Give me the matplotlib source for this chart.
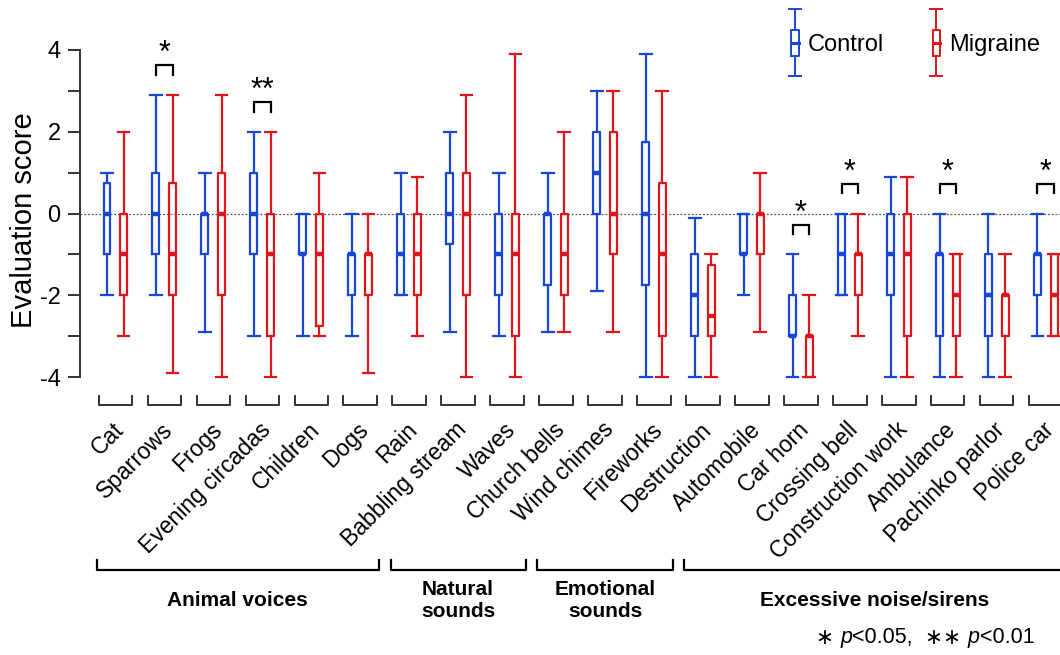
import matplotlib
matplotlib.use("Agg")
import matplotlib.pyplot as plt
from matplotlib.legend_handler import HandlerBase
from matplotlib.lines import Line2D
import numpy as np

plt.rcParams['font.family'] = ['Liberation Sans', 'DejaVu Sans']
plt.rcParams['axes.unicode_minus'] = False

# data
categories = ['Cat', 'Sparrows', 'Frogs', 'Evening circadas', 'Children', 'Dogs',
              'Rain', 'Babbling stream', 'Waves',
              'Church bells', 'Wind chimes', 'Fireworks',
              'Destruction', 'Automobile', 'Car horn', 'Crossing bell',
              'Construction work', 'Ambulance', 'Pachinko parlor', 'Police car']

ctrl_med = [0, 0, 0, 0, -1, -1, -1, 0, -1, 0, 1, 0, -2, -1, -3, -1, -1, -1, -2, -1]
ctrl_q1 = [-1, -1, -1, -1, -1, -2, -2, -0.75, -2, -1.75, 0, -1.75, -3, -1, -3, -2, -2, -3, -3, -2]
ctrl_q3 = [0.75, 1, 0, 1, 0, -1, 0, 1, 0, 0, 2, 1.75, -1, 0, -2, 0, 0, -1, -1, -1]
ctrl_lo = [-2, -2, -2.9, -3, -3, -3, -2, -2.9, -3, -2.9, -1.9, -4, -4, -2, -4, -2, -4, -4, -4, -3]
ctrl_hi = [1, 2.9, 1, 2, 0, 0, 1, 2, 1, 1, 3, 3.9, -0.1, 0, -1, 0, 0.9, 0, 0, 0]

mig_med = [-1, -1, 0, -1, -1, -1, -1, 0, -1, -1, 0, -1, -2.5, 0, -3, -1, -1, -2, -2, -2]
mig_q1 = [-2, -2, -2, -3, -2.75, -2, -2, -2, -3, -2, -1, -3, -3, -1, -4, -2, -3, -3, -3, -3]
mig_q3 = [0, 0.75, 1, 0, 0, -1, 0, 1, 0, 0, 2, 0.75, -1.25, 0, -3, -1, 0, -1, -2, -1]
mig_lo = [-3, -3.9, -4, -4, -3, -3.9, -3, -4, -4, -2.9, -2.9, -4, -4, -2.9, -4, -3, -4, -4, -4, -3]
mig_hi = [2, 2.9, 2.9, 2, 1, 0, 0.9, 2.9, 3.9, 2, 3, 3, -1, 1, -2, 0, 0.9, -1, -1, -1]

significance = ['', '*', '', '**', '', '', '', '', '', '', '', '',
                '', '', '*', '*', '', '*', '', '*']

groups = ['Animal voices', 'Natural\nsounds', 'Emotional\nsounds', 'Excessive noise/sirens']
group_sizes = [6, 3, 3, 8]

blue = '#1747d4'
red = '#e0141b'

fig = plt.figure(figsize=(10.6, 6.55), dpi=100)
ax = fig.add_axes([80 / 1060, 0, 980 / 1060, 1])
ax.set_xlim(-0.72, 19.29)
ax.set_ylim((213.5 - 655) / 40.9, 213.5 / 40.9)

x = np.arange(len(categories))
off = 0.17


def stats(med, q1, q3, lo, hi):
    return [dict(med=m, q1=a, q3=b, whislo=l, whishi=h)
            for m, a, b, l, h in zip(med, q1, q3, lo, hi)]


for st, pos, col in [(stats(ctrl_med, ctrl_q1, ctrl_q3, ctrl_lo, ctrl_hi), x - off, blue),
                     (stats(mig_med, mig_q1, mig_q3, mig_lo, mig_hi), x + off, red)]:
    ax.bxp(st, positions=pos, widths=0.14, capwidths=0.24, showfliers=False,
           boxprops=dict(color=col, lw=1.6),
           whiskerprops=dict(color=col, lw=1.6),
           capprops=dict(color=col, lw=1.6),
           medianprops=dict(color=col, lw=3.2, solid_capstyle='butt'),
           manage_ticks=False)

ax.axhline(0, color='#555555', lw=0.9, ls=(0, (1.5, 1.5)), zorder=0)

# significance brackets
for i, s in enumerate(significance):
    if not s:
        continue
    top = max(ctrl_hi[i], mig_hi[i]) + 0.73
    ax.plot([i - off, i - off, i + off, i + off], [top - 0.24, top, top, top - 0.24],
            color='black', lw=1.6, solid_joinstyle='miter')
    ax.text(i, top - 0.1, s, ha='center', va='bottom', fontsize=22)

# category brackets and labels
for i, c in enumerate(categories):
    ax.plot([i - 0.34, i - 0.34, i + 0.34, i + 0.34], [-4.46, -4.68, -4.68, -4.46],
            color='#333333', lw=1.4)
    ax.text(i + 0.1, -5.2, c, rotation=45, rotation_mode='anchor',
            ha='right', va='center', fontsize=16.5)

# group brackets
start = 0
for g, n in zip(groups, group_sizes):
    a, b = start - 0.38, start + n - 1 + 0.38
    ax.plot([a, a, b, b], [-8.47, -8.72, -8.72, -8.47], color='black', lw=1.6)
    ax.text((start + start + n - 1) / 2, -9.45, g, ha='center', va='center',
            fontsize=15, fontweight='bold', linespacing=1.2)
    start += n

# footnote, chained pieces so that the p can be italic
dj = ['DejaVu Sans']
lib = ['Liberation Sans']
pieces = [('\u2217 ', 'normal', dj), ('p', 'italic', lib), ('<0.05,  ', 'normal', lib),
          ('\u2217\u2217 ', 'normal', dj), ('p', 'italic', lib), ('<0.01', 'normal', lib)]
prev = ax.text(14.3, -10.38, pieces[0][0], ha='left', va='center', fontsize=15.5,
               family=pieces[0][2])
for txt, style, fam in pieces[1:]:
    prev = ax.annotate(txt, xy=(1, 0), xycoords=prev, va='bottom', fontsize=15.5,
                       style=style, family=fam)

# axes styling
for sp in ['top', 'right', 'bottom']:
    ax.spines[sp].set_visible(False)
ax.spines['left'].set_bounds(-4, 4)
ax.spines['left'].set_color('#333333')
ax.spines['left'].set_linewidth(1.4)
ax.set_xticks([])
ax.set_yticks([-4, -2, 0, 2, 4])
ax.set_yticks([-3, -1, 1, 3], minor=True)
ax.tick_params(axis='y', which='both', length=9, width=1.4, color='#333333')
ax.tick_params(axis='y', labelsize=17, pad=5)
ax.set_ylabel('Evaluation score', fontsize=21)
ax.yaxis.set_label_coords(-0.043, 0.664)


# legend with small box glyphs
class BoxHandler(HandlerBase):
    def create_artists(self, legend, orig_handle, xdescent, ydescent,
                       width, height, fontsize, trans):
        col = orig_handle.get_color()
        cx = width / 2 - xdescent
        cy = height / 2 - ydescent
        bw, cw, bh, wh = 2.6, 4.3, 9.5, 24
        arts = [
            Line2D([cx, cx], [cy + bh, cy + wh], color=col, lw=1.4),
            Line2D([cx, cx], [cy - bh, cy - wh], color=col, lw=1.4),
            Line2D([cx - cw, cx + cw], [cy + wh, cy + wh], color=col, lw=1.4),
            Line2D([cx - cw, cx + cw], [cy - wh, cy - wh], color=col, lw=1.4),
            Line2D([cx - bw, cx + bw, cx + bw, cx - bw, cx - bw],
                   [cy - bh, cy - bh, cy + bh, cy + bh, cy - bh], color=col, lw=1.4),
            Line2D([cx - bw, cx + bw], [cy, cy], color=col, lw=2.2),
        ]
        for a in arts:
            a.set_transform(trans)
        return arts


handles = [Line2D([], [], color=blue), Line2D([], [], color=red)]
fig.legend(handles, ['Control', 'Migraine'], handler_map={Line2D: BoxHandler()},
           loc='center left', bbox_to_anchor=(788 / 1060, 1 - 45 / 655),
           ncol=2, frameon=False, fontsize=17, handlelength=0.6,
           handletextpad=0.25, columnspacing=1.9, borderpad=0, borderaxespad=0)

fig.savefig('out.png', dpi=100)
